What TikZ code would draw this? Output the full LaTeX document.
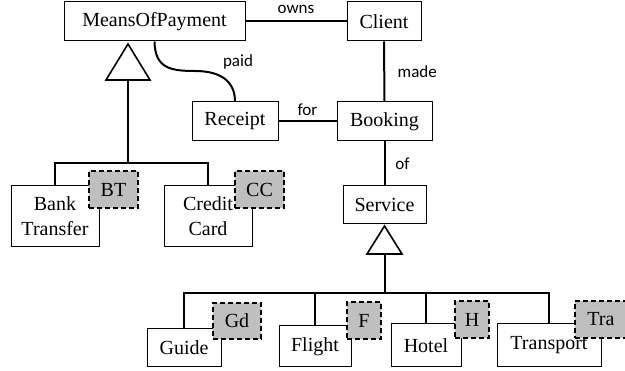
\documentclass[tikz,border=0pt]{standalone}
\usepackage{fontspec}
\setmainfont{Liberation Serif}
\newfontfamily\lblfont{Carlito}
\begin{document}
\begin{tikzpicture}[x=1pt,y=-1pt,
  box/.style={draw, line width=1pt, fill=white, inner sep=0pt, align=center,
    font=\fontsize{20}{25}\selectfont},
  tag/.style={draw, line width=1.8pt, dash pattern=on 5pt off 3pt, fill=black!25,
    inner sep=0pt, font=\fontsize{20}{24}\selectfont},
  conn/.style={line width=2pt},
  lbl/.style={font=\lblfont\fontsize{17}{20}\selectfont, inner sep=0pt},
  tri/.style={draw, line width=1.6pt, fill=white, line join=miter}]
\useasboundingbox (0,0) rectangle (625,371);

% coordinates
\coordinate (mopapex) at (128,44);
\coordinate (mopbase) at (128,80);
\coordinate (mopbar) at (128,163);
\coordinate (svcapex) at (384.5,226);
\coordinate (svcbase) at (384.5,254);
\coordinate (svcbar) at (384.5,293);
\coordinate (paidmid) at (195,71);

% boxes
\node[box, minimum width=181pt, minimum height=39pt] (mop) at (154.5,21.5) {MeansOfPayment};
\node[box, minimum width=74pt, minimum height=39pt] (client) at (384,21.5) {Client};
\node[box, minimum width=86pt, minimum height=39pt] (receipt) at (235,121.5) {Receipt};
\node[box, minimum width=95pt, minimum height=39pt] (booking) at (384.5,121.5) {Booking};
\node[box, minimum width=83pt, minimum height=38pt] (service) at (384.5,205) {Service};

% connectors
\draw[conn] (mop) -- (client) node[lbl, midway, yshift=12.5pt] {owns};
\draw[conn] (client) -- (booking) node[lbl, midway, xshift=33pt] {made};
\draw[conn] (receipt) -- (booking) node[lbl, midway, yshift=11.5pt] {for};
\draw[conn] (booking) -- (service) node[lbl, midway, xshift=18pt] {of};
\draw[conn] (mop.south) .. controls (155,68) and (170,71) .. (paidmid)
  .. controls (224,71) and (235,84) .. (receipt.north);
\node[lbl] (paidlbl) at (238,62) {paid};

% generalisation of MeansOfPayment
\draw[conn] (mopbase) -- (mopbar);
\draw[tri] (mopapex) -- (106,80) -- (150,80) -- cycle;

% generalisation of Service
\draw[conn] (svcbase) -- (svcbar);
\draw[tri] (svcapex) -- (367,254) -- (402,254) -- cycle;

% sub boxes
\node[box, minimum width=88pt, minimum height=61pt] (bank) at (55,216.5) {Bank\\Transfer};
\node[box, minimum width=88pt, minimum height=61pt] (credit) at (208,216.5) {Credit\\Card};
\node[box, minimum width=74pt, minimum height=38pt] (guide) at (184,348) {Guide};
\node[box, minimum width=72pt, minimum height=41pt] (flight) at (315,346.5) {Flight};
\node[box, minimum width=70pt, minimum height=43pt] (hotel) at (426,345.5) {Hotel};
\node[box, minimum width=104pt, minimum height=43pt] (transport) at (549,345.5) {Transport};

\draw[conn] (bank.north) -- (bank.north |- mopbar) -- (credit.north |- mopbar) -- (credit.north);
\draw[conn] (guide.north) -- (guide.north |- svcbar) -- (transport.north |- svcbar) -- (transport.north);
\draw[conn] (flight.north) -- (flight.north |- svcbar);
\draw[conn] (hotel.north) -- (hotel.north |- svcbar);

% tags
\node[tag, minimum width=49pt, minimum height=37pt] (bt) at (113.5,189.5) {BT};
\node[tag, minimum width=49pt, minimum height=37pt] (cc) at (259.5,189.5) {CC};
\node[tag, minimum width=48pt, minimum height=36pt] (gd) at (237,321) {Gd};
\node[tag, minimum width=34pt, minimum height=37pt] (f) at (364,320.5) {F};
\node[tag, minimum width=34pt, minimum height=37pt] (h) at (472,319.5) {H};
\node[tag, minimum width=52pt, minimum height=37pt] (tra) at (601,319.5) {Tra};
\end{tikzpicture}
\end{document}
